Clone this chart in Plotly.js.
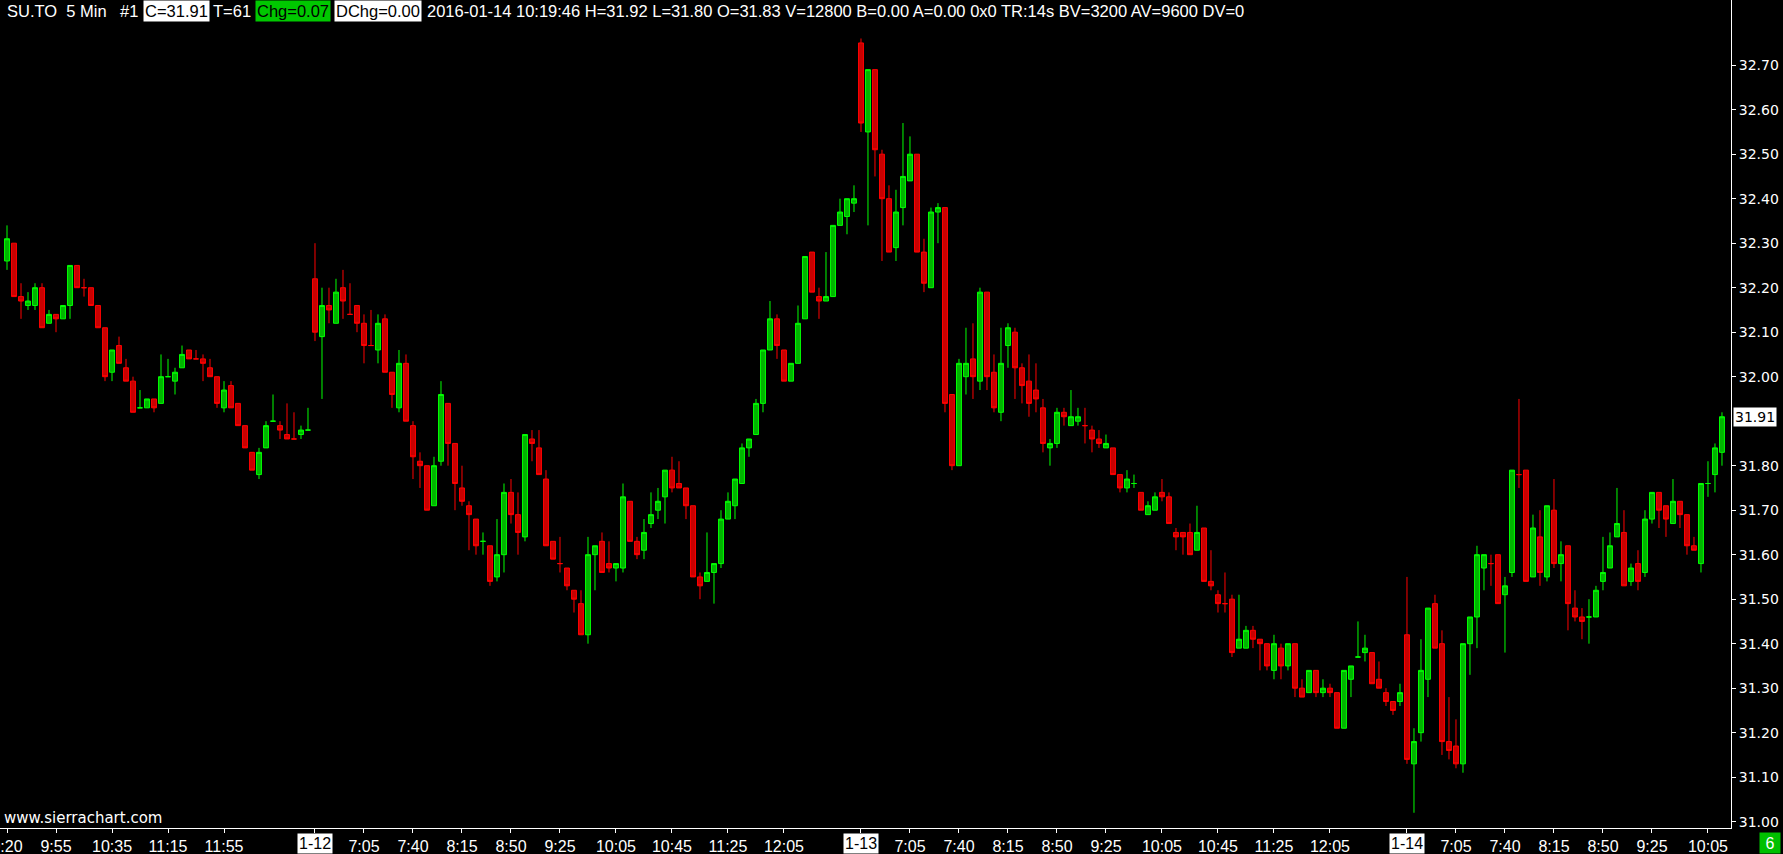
<!DOCTYPE html>
<html><head><meta charset="utf-8">
<script src="https://cdn.plot.ly/plotly-3.0.1.min.js"></script>
<style>html,body{margin:0;padding:0;background:#000;overflow:hidden}#chart{width:1783px;height:854px}</style>
</head><body><div id="chart"></div>
<script>
const opens=[32.26,32.30,32.18,32.16,32.16,32.20,32.12,32.14,32.13,32.16,
32.25,32.20,32.20,32.16,32.11,32.01,32.07,32.02,31.99,31.93,
31.93,31.95,31.94,32.00,31.99,32.02,32.06,32.04,32.04,32.02,
32.00,31.93,31.98,31.94,31.89,31.83,31.78,31.84,31.90,31.89,
31.87,31.86,31.87,31.88,32.22,32.09,32.16,32.12,32.20,32.14,
32.16,32.12,32.07,32.06,32.13,32.01,31.93,32.03,31.89,31.81,
31.80,31.71,31.81,31.94,31.85,31.75,31.71,31.68,31.63,31.62,
31.55,31.60,31.74,31.69,31.64,31.86,31.84,31.77,31.63,31.58,
31.57,31.52,31.49,31.42,31.60,31.63,31.58,31.57,31.57,31.72,
31.63,31.61,31.67,31.70,31.73,31.79,31.76,31.75,31.71,31.55,
31.54,31.56,31.58,31.68,31.71,31.76,31.84,31.87,31.94,32.06,
32.13,32.06,31.99,32.03,32.13,32.28,32.18,32.17,32.18,32.34,
32.36,32.39,32.75,32.55,32.69,32.50,32.40,32.29,32.38,32.44,
32.50,32.28,32.20,32.37,32.38,31.96,31.80,32.00,32.04,31.99,
32.19,32.01,31.92,32.07,32.10,32.02,31.99,31.97,31.93,31.84,
31.85,31.92,31.89,31.90,31.89,31.88,31.86,31.84,31.84,31.78,
31.75,31.76,31.74,31.69,31.70,31.74,31.73,31.65,31.65,31.65,
31.61,31.66,31.54,31.51,31.49,31.50,31.39,31.39,31.43,31.41,
31.40,31.34,31.39,31.35,31.40,31.30,31.29,31.34,31.29,31.30,
31.29,31.21,31.32,31.37,31.38,31.38,31.32,31.29,31.27,31.27,
31.42,31.13,31.20,31.32,31.49,31.40,31.18,31.17,31.13,31.40,
31.46,31.57,31.58,31.60,31.51,31.56,31.78,31.79,31.55,31.64,
31.55,31.70,31.58,31.62,31.48,31.46,31.46,31.46,31.54,31.57,
31.64,31.65,31.54,31.58,31.56,31.68,31.74,31.71,31.67,31.72,
31.69,31.62,31.58,31.76,31.78,31.83];
const highs=[32.34,32.30,32.21,32.19,32.21,32.21,32.15,32.14,32.16,32.25,
32.25,32.22,32.20,32.16,32.11,32.06,32.09,32.04,32.00,31.97,
31.95,31.95,32.05,32.04,32.02,32.07,32.06,32.06,32.05,32.04,
32.00,31.99,31.99,31.94,31.89,31.83,31.84,31.90,31.96,31.90,
31.94,31.92,31.89,31.93,32.30,32.20,32.20,32.22,32.24,32.21,
32.16,32.14,32.15,32.14,32.14,32.01,32.06,32.05,31.90,31.83,
31.80,31.82,31.99,31.94,31.85,31.80,31.72,31.68,31.65,31.62,
31.68,31.76,31.77,31.74,31.87,31.88,31.88,31.79,31.63,31.64,
31.57,31.52,31.52,31.64,31.62,31.65,31.63,31.58,31.76,31.72,
31.64,31.68,31.74,31.75,31.79,31.82,31.81,31.75,31.71,31.56,
31.65,31.58,31.70,31.74,31.77,31.85,31.86,31.95,32.06,32.17,
32.14,32.06,32.03,32.16,32.27,32.28,32.20,32.28,32.34,32.40,
32.40,32.43,32.76,32.69,32.69,32.51,32.43,32.42,32.57,32.54,
32.50,32.31,32.38,32.39,32.38,31.96,32.04,32.11,32.12,32.20,
32.19,32.05,32.11,32.12,32.11,32.03,32.05,32.03,31.95,31.86,
31.93,31.93,31.97,31.93,31.93,31.89,31.88,31.87,31.84,31.78,
31.79,31.78,31.74,31.72,31.74,31.77,31.74,31.66,31.65,31.67,
31.71,31.66,31.61,31.52,31.56,31.51,31.51,31.44,31.44,31.41,
31.40,31.42,31.40,31.40,31.40,31.32,31.34,31.34,31.32,31.31,
31.29,31.34,31.35,31.45,31.42,31.38,31.36,31.30,31.27,31.31,
31.55,31.21,31.41,31.48,31.51,31.43,31.28,31.23,31.40,31.46,
31.62,31.60,31.60,31.60,31.55,31.79,31.95,31.79,31.69,31.70,
31.71,31.77,31.63,31.62,31.52,31.48,31.50,31.53,31.64,31.65,
31.75,31.70,31.58,31.61,31.70,31.74,31.74,31.71,31.77,31.72,
31.69,31.64,31.76,31.81,31.85,31.92];
const lows=[32.24,32.18,32.13,32.15,32.15,32.11,32.12,32.10,32.13,32.13,
32.20,32.18,32.16,32.11,31.99,31.99,32.03,31.99,31.92,31.93,
31.93,31.92,31.94,32.00,31.96,32.02,32.04,32.04,31.99,32.00,
31.93,31.92,31.93,31.89,31.84,31.79,31.77,31.84,31.90,31.86,
31.86,31.86,31.86,31.88,32.08,31.95,32.12,32.12,32.13,32.14,
32.10,32.03,32.07,32.03,32.01,31.93,31.92,31.90,31.77,31.75,
31.70,31.71,31.80,31.80,31.70,31.71,31.61,31.60,31.60,31.53,
31.54,31.56,31.67,31.60,31.63,31.81,31.78,31.62,31.59,31.56,
31.52,31.47,31.42,31.40,31.52,31.56,31.56,31.54,31.56,31.63,
31.59,31.59,31.66,31.68,31.67,31.74,31.75,31.68,31.55,31.50,
31.54,31.49,31.57,31.68,31.68,31.76,31.82,31.87,31.92,32.06,
32.04,31.99,31.99,32.03,32.13,32.19,32.13,32.17,32.18,32.34,
32.32,32.37,32.55,32.34,32.45,32.26,32.28,32.26,32.34,32.44,
32.28,32.19,32.20,32.30,31.92,31.79,31.80,31.96,31.95,31.97,
31.97,31.92,31.90,32.02,31.95,31.94,31.91,31.92,31.83,31.80,
31.84,31.89,31.89,31.89,31.85,31.83,31.84,31.84,31.78,31.74,
31.74,31.75,31.70,31.69,31.70,31.72,31.67,31.61,31.60,31.60,
31.61,31.54,31.52,31.47,31.47,31.37,31.39,31.39,31.39,31.34,
31.34,31.32,31.32,31.34,31.28,31.28,31.29,31.28,31.28,31.28,
31.21,31.21,31.28,31.37,31.36,31.31,31.30,31.26,31.24,31.26,
31.13,31.02,31.18,31.28,31.39,31.15,31.14,31.12,31.11,31.33,
31.39,31.52,31.53,31.49,31.38,31.55,31.75,31.54,31.55,31.53,
31.54,31.57,31.54,31.43,31.45,31.41,31.40,31.46,31.52,31.57,
31.64,31.53,31.53,31.52,31.55,31.67,31.66,31.64,31.67,31.66,
31.60,31.61,31.56,31.73,31.74,31.80];
const closes=[32.31,32.18,32.17,32.17,32.20,32.11,32.14,32.13,32.16,32.25,
32.20,32.20,32.16,32.11,32.00,32.06,32.03,31.99,31.92,31.93,
31.95,31.93,32.00,32.00,32.01,32.05,32.04,32.04,32.03,32.00,
31.94,31.97,31.93,31.89,31.84,31.79,31.83,31.89,31.90,31.88,
31.86,31.86,31.88,31.88,32.10,32.16,32.15,32.19,32.17,32.14,
32.12,32.07,32.07,32.12,32.01,31.96,32.03,31.90,31.82,31.80,
31.70,31.80,31.96,31.85,31.76,31.72,31.69,31.62,31.63,31.54,
31.60,31.74,31.69,31.65,31.87,31.85,31.78,31.62,31.59,31.58,
31.53,31.50,31.42,31.60,31.62,31.56,31.57,31.58,31.73,31.63,
31.60,31.65,31.69,31.72,31.79,31.75,31.75,31.71,31.55,31.53,
31.56,31.58,31.68,31.72,31.77,31.84,31.86,31.94,32.06,32.13,
32.07,31.99,32.03,32.12,32.27,32.19,32.17,32.18,32.34,32.37,
32.40,32.40,32.57,32.69,32.51,32.40,32.28,32.37,32.45,32.50,
32.28,32.21,32.37,32.38,31.94,31.80,32.03,32.03,32.00,32.19,
32.00,31.93,32.03,32.11,32.02,31.98,31.94,31.95,31.85,31.85,
31.92,31.91,31.91,31.91,31.89,31.86,31.85,31.85,31.78,31.75,
31.77,31.76,31.70,31.71,31.73,31.73,31.67,31.64,31.64,31.60,
31.65,31.54,31.53,31.49,31.49,31.38,31.41,31.43,31.41,31.40,
31.35,31.40,31.35,31.40,31.30,31.28,31.34,31.29,31.30,31.29,
31.21,31.34,31.35,31.37,31.39,31.31,31.30,31.27,31.25,31.29,
31.14,31.18,31.34,31.48,31.39,31.18,31.16,31.13,31.40,31.46,
31.60,31.60,31.58,31.49,31.53,31.79,31.78,31.54,31.66,31.56,
31.71,31.58,31.60,31.49,31.46,31.45,31.46,31.52,31.56,31.62,
31.67,31.53,31.57,31.54,31.68,31.74,31.70,31.68,31.72,31.69,
31.62,31.61,31.76,31.76,31.84,31.91];
// bars where open == close that are drawn green
const greenDoji=[19,23,38,43,68,161,193,226,243];

const timeTickIdx=[0,7,15,23,31,51,58,65,72,79,87,95,103,111,129,136,143,150,157,165,173,181,189,207,214,221,228,235,243];
const timeTickText=['9:20','9:55','10:35','11:15','11:55','7:05','7:40','8:15','8:50','9:25','10:05','10:45','11:25','12:05','7:05','7:40','8:15','8:50','9:25','10:05','10:45','11:25','12:05','7:05','7:40','8:15','8:50','9:25','10:05'];
const dateIdx=[44,122,200];
const dateText=['1-12','1-13','1-14'];
const priceTicks=[31.00,31.10,31.20,31.30,31.40,31.50,31.60,31.70,31.80,32.00,32.10,32.20,32.30,32.40,32.50,32.60,32.70];
const lastPrice=31.91;

const idx=opens.map((_,i)=>i);
const isUp=i=>closes[i]>opens[i]||(closes[i]===opens[i]&&greenDoji.includes(i));
function mk(sel,line,fill){
  const ids=idx.filter(sel);
  const st={line:{color:line,width:1},fillcolor:fill};
  return {type:'candlestick',x:ids,open:ids.map(i=>opens[i]),high:ids.map(i=>highs[i]),
    low:ids.map(i=>lows[i]),close:ids.map(i=>closes[i]),increasing:st,decreasing:st,
    whiskerwidth:0,hoverinfo:'skip',showlegend:false};
}
const traces=[mk(isUp,'#00ff00','#00b400'),mk(i=>!isUp(i),'#ff0000','#c80000')];

const PW=1731, PH=828;
const hdrFont={family:'Liberation Sans, Arial, sans-serif',size:16.5,color:'#ffffff'};
const axFont={family:'Liberation Sans, Arial, sans-serif',size:16,color:'#ffffff'};
const hdrY=1-11/PH;
const header=[
  {t:'SU.TO  5 Min',x:5},
  {t:'#1',x:118},
  {t:'C=31.91',x:143,bg:'#ffffff',fc:'#000000'},
  {t:'T=61',x:211},
  {t:'Chg=0.07',x:255,bg:'#00c800',fc:'#000000'},
  {t:'DChg=0.00',x:334,bg:'#ffffff',fc:'#000000'},
  {t:'2016-01-14 10:19:46 H=31.92 L=31.80 O=31.83 V=12800 B=0.00 A=0.00 0x0 TR:14s BV=3200 AV=9600 DV=0',x:425}
];
const ann=[];
header.forEach(h=>{
  ann.push({xref:'paper',yref:'paper',x:h.x/PW,y:hdrY,xanchor:'left',yanchor:'middle',showarrow:false,
    text:h.t,font:Object.assign({},hdrFont,{color:h.fc||'#ffffff'}),bgcolor:h.bg||'rgba(0,0,0,0)',borderpad:1});
});
dateIdx.forEach((d,k)=>{
  ann.push({xref:'x',yref:'paper',x:d,y:-15/PH,xanchor:'center',yanchor:'middle',showarrow:false,
    text:dateText[k],font:Object.assign({},axFont,{color:'#000000'}),bgcolor:'#ffffff',borderpad:1});
});
ann.push({xref:'paper',yref:'y',x:1733/PW,y:lastPrice,xanchor:'left',yanchor:'middle',showarrow:false,
  text:lastPrice.toFixed(2),font:{family:'DejaVu Sans, Verdana, sans-serif',size:14,color:'#000000'},bgcolor:'#ffffff',borderpad:1});
ann.push({xref:'paper',yref:'paper',x:1770/PW,y:-15/PH,xanchor:'center',yanchor:'middle',showarrow:false,
  text:'6',font:Object.assign({},axFont,{color:'#ffffff'}),bgcolor:'#00c000',width:20,height:20,align:'center',borderpad:0});
ann.push({xref:'paper',yref:'paper',x:2/PW,y:10/PH,xanchor:'left',yanchor:'middle',showarrow:false,
  text:'www.sierrachart.com',font:{family:'DejaVu Sans, Verdana, sans-serif',size:15,color:'#ffffff'}});

const allTickIdx=timeTickIdx.concat(dateIdx);
const allTickText=timeTickText.concat(dateText.map(()=>''));

const layout={
  width:1783,height:854,paper_bgcolor:'#000000',plot_bgcolor:'#000000',
  margin:{l:0,r:1783-PW,t:0,b:854-PH,pad:0},showlegend:false,
  boxgap:0,boxgroupgap:0.3,
  xaxis:{range:[-1,246.29],showgrid:false,zeroline:false,showline:true,linecolor:'#ffffff',linewidth:1,
    ticks:'outside',ticklen:4,tickcolor:'#ffffff',tickwidth:1,tickmode:'array',tickvals:allTickIdx,ticktext:allTickText,
    tickfont:axFont,ticklabeloverflow:'allow',rangeslider:{visible:false},fixedrange:true},
  yaxis:{side:'right',range:[30.9858,32.8465],showgrid:false,zeroline:false,showline:true,linecolor:'#ffffff',linewidth:1,
    ticks:'outside',ticklen:4,tickcolor:'#ffffff',tickwidth:1,tickmode:'array',tickvals:priceTicks,
    ticktext:priceTicks.map(v=>v.toFixed(2)),tickfont:{family:'DejaVu Sans, Verdana, sans-serif',size:14,color:'#ffffff'},
    ticklabeloverflow:'allow',fixedrange:true},
  annotations:ann
};
Plotly.newPlot('chart',traces,layout,{staticPlot:true,displayModeBar:false});
</script></body></html>
